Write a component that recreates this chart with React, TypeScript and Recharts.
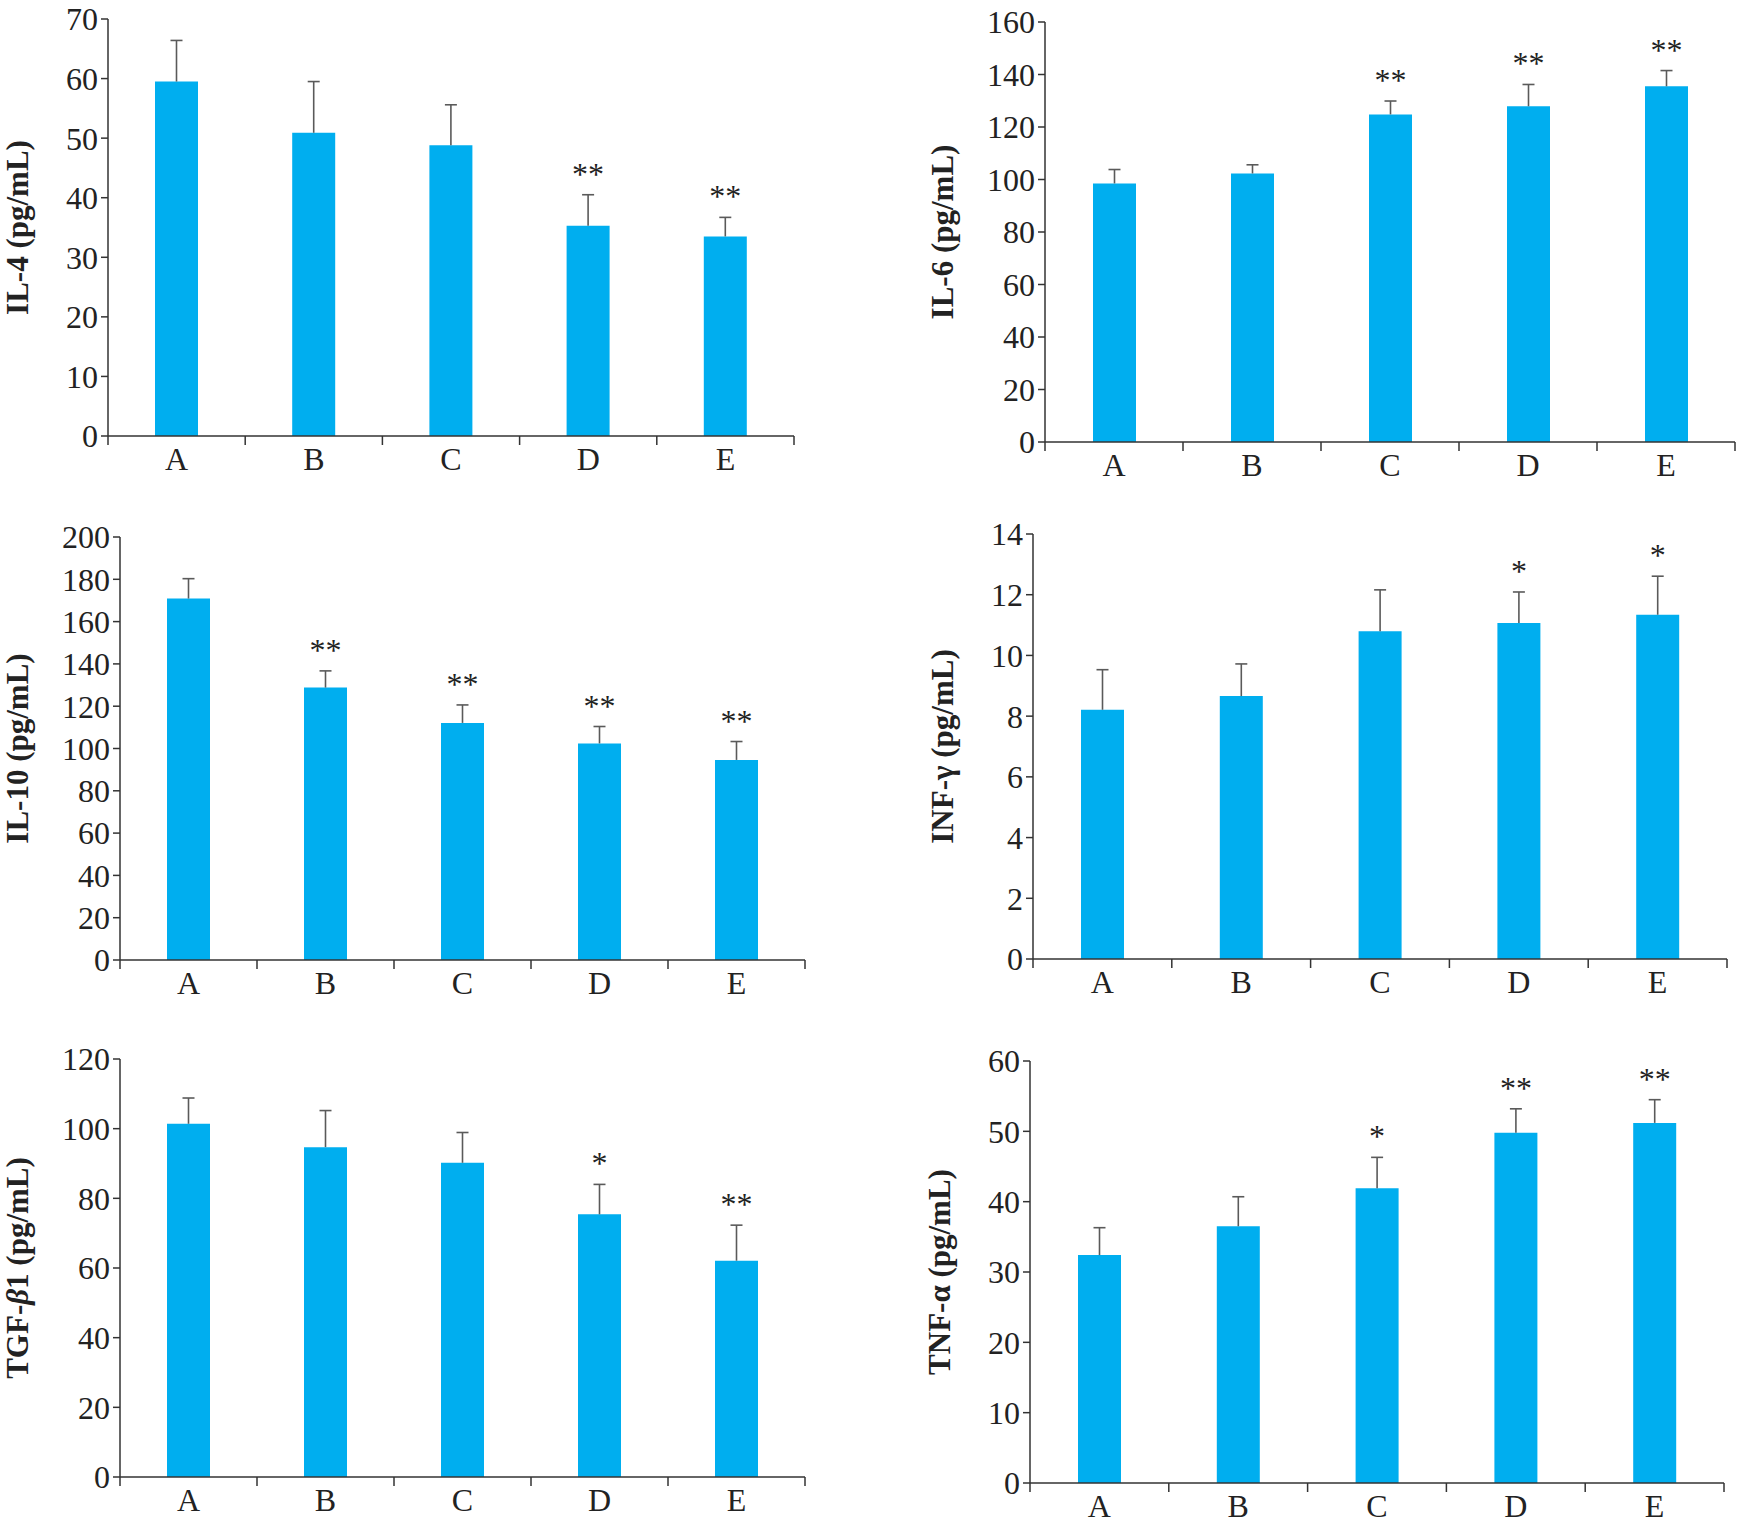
import React from "react";
import { BarChart, Bar, XAxis, YAxis, LabelList } from "recharts";

// groups on the x axis
const GROUPS = ["A", "B", "C", "D", "E"];

// IL-4
const IL4_MEAN = [59.5, 50.9, 48.8, 35.3, 33.5];
const IL4_UPPER = [66.4, 59.5, 55.6, 40.5, 36.7];
const IL4_SIG = ["", "", "", "**", "**"];
const IL4_TICKS = [0, 10, 20, 30, 40, 50, 60, 70];

// IL-6
const IL6_MEAN = [98.5, 102.3, 124.8, 127.9, 135.5];
const IL6_UPPER = [103.8, 105.6, 129.9, 136.2, 141.5];
const IL6_SIG = ["", "", "**", "**", "**"];
const IL6_TICKS = [0, 20, 40, 60, 80, 100, 120, 140, 160];

// IL-10
const IL10_MEAN = [170.9, 128.8, 112.1, 102.4, 94.6];
const IL10_UPPER = [180.3, 136.7, 120.6, 110.4, 103.3];
const IL10_SIG = ["", "**", "**", "**", "**"];
const IL10_TICKS = [0, 20, 40, 60, 80, 100, 120, 140, 160, 180, 200];

// INF-γ
const INF_MEAN = [8.21, 8.66, 10.8, 11.07, 11.34];
const INF_UPPER = [9.53, 9.72, 12.16, 12.09, 12.61];
const INF_SIG = ["", "", "", "*", "*"];
const INF_TICKS = [0, 2, 4, 6, 8, 10, 12, 14];

// TGF-β1
const TGF_MEAN = [101.4, 94.7, 90.2, 75.4, 62.1];
const TGF_UPPER = [108.8, 105.2, 98.9, 84.0, 72.3];
const TGF_SIG = ["", "", "", "*", "**"];
const TGF_TICKS = [0, 20, 40, 60, 80, 100, 120];

// TNF-α
const TNF_MEAN = [32.4, 36.5, 41.9, 49.8, 51.2];
const TNF_UPPER = [36.3, 40.7, 46.3, 53.2, 54.5];
const TNF_SIG = ["", "", "*", "**", "**"];
const TNF_TICKS = [0, 10, 20, 30, 40, 50, 60];

const FONT = "'Liberation Serif', 'Times New Roman', serif";
const BAR_COLOR = "#00AEEF";
const AXIS_COLOR = "#333333";
const WHISKER_COLOR = "#5a5a5a";
const TICK_FS = 32;

const M_TOP = 40;
const M_RIGHT = 5;
const X_H = 60;
const Y_W = 130;

const buildRows = (mean: number[], upper: number[], sig: string[]) =>
  GROUPS.map((g, i) => ({
    group: g,
    mean: mean[i],
    err: +(upper[i] - mean[i]).toFixed(3),
    sig: sig[i],
  }));

const ErrorWhisker = (props: any) => {
  const { x, y, width, height } = props;
  if (x == null || y == null || !width) return null;
  const cx = x + width / 2;
  return (
    <g>
      <line x1={cx} x2={cx} y1={y + height} y2={y} stroke={WHISKER_COLOR} strokeWidth={1.6} />
      <line x1={cx - 6} x2={cx + 6} y1={y} y2={y} stroke={WHISKER_COLOR} strokeWidth={1.6} />
    </g>
  );
};

// category label plus tick marks on the band edges
const GroupTick = (props: any) => {
  const { x, y, payload, index, half, last } = props;
  const h = payload && payload.offset ? payload.offset : half;
  return (
    <g>
      <line x1={x - h} x2={x - h} y1={y} y2={y + 9} stroke={AXIS_COLOR} strokeWidth={1.5} />
      {index === last && <line x1={x + h} x2={x + h} y1={y} y2={y + 9} stroke={AXIS_COLOR} strokeWidth={1.5} />}
      <text x={x} y={y + 11} dy="0.72em" textAnchor="middle" fill="#222" fontSize={TICK_FS} fontFamily={FONT}>
        {payload.value}
      </text>
    </g>
  );
};

type Panel = {
  title: React.ReactNode;
  mean: number[];
  upper: number[];
  sig: string[];
  ticks: number[];
  // plot rectangle on the page
  L: number;
  T: number;
  R: number;
  B: number;
  labelX: number;
};

const panels: Panel[] = [
  { title: "IL-4 (pg/mL)", mean: IL4_MEAN, upper: IL4_UPPER, sig: IL4_SIG, ticks: IL4_TICKS, L: 108, T: 19, R: 794, B: 436, labelX: 28 },
  { title: "IL-6 (pg/mL)", mean: IL6_MEAN, upper: IL6_UPPER, sig: IL6_SIG, ticks: IL6_TICKS, L: 1045, T: 22, R: 1735, B: 442, labelX: 953 },
  { title: "IL-10 (pg/mL)", mean: IL10_MEAN, upper: IL10_UPPER, sig: IL10_SIG, ticks: IL10_TICKS, L: 120, T: 537, R: 805, B: 960, labelX: 28 },
  { title: "INF-γ (pg/mL)", mean: INF_MEAN, upper: INF_UPPER, sig: INF_SIG, ticks: INF_TICKS, L: 1033, T: 534, R: 1727, B: 959, labelX: 953 },
  {
    title: (
      <>
        <tspan>TGF-</tspan>
        <tspan fontStyle="italic">β</tspan>
        <tspan>1 (pg/mL)</tspan>
      </>
    ),
    mean: TGF_MEAN, upper: TGF_UPPER, sig: TGF_SIG, ticks: TGF_TICKS, L: 120, T: 1059, R: 805, B: 1477, labelX: 28,
  },
  { title: "TNF-α (pg/mL)", mean: TNF_MEAN, upper: TNF_UPPER, sig: TNF_SIG, ticks: TNF_TICKS, L: 1030, T: 1061, R: 1724, B: 1483, labelX: 950 },
];

function CytokinePanel({ p }: { p: Panel }) {
  const data = buildRows(p.mean, p.upper, p.sig);
  const left = p.L - Y_W;
  const top = p.T - M_TOP;
  const w = p.R - p.L + Y_W + M_RIGHT;
  const h = p.B - p.T + M_TOP + X_H;
  const max = p.ticks[p.ticks.length - 1];
  const bx = p.labelX - left;
  const by = M_TOP + (p.B - p.T) / 2;
  const half = (p.R - p.L) / GROUPS.length / 2;

  return (
    <div style={{ position: "absolute", left, top }}>
      <BarChart width={w} height={h} data={data} margin={{ top: M_TOP, right: M_RIGHT, bottom: 0, left: 0 }}>
        <XAxis
          dataKey="group"
          height={X_H}
          interval={0}
          axisLine={{ stroke: AXIS_COLOR, strokeWidth: 1.5 }}
          tickLine={false}
          tickSize={0}
          tickMargin={0}
          tick={<GroupTick half={half} last={GROUPS.length - 1} />}
        />
        <YAxis
          domain={[0, max]}
          ticks={p.ticks}
          interval={0}
          allowDataOverflow
          width={Y_W}
          tickSize={7}
          tickMargin={3}
          axisLine={{ stroke: AXIS_COLOR, strokeWidth: 1.5 }}
          tickLine={{ stroke: AXIS_COLOR, strokeWidth: 1.5 }}
          tick={{ fill: "#222", fontSize: TICK_FS, fontFamily: FONT }}
          label={() => (
            <text
              x={bx}
              y={by}
              transform={`rotate(-90 ${bx} ${by})`}
              textAnchor="middle"
              fontFamily={FONT}
              fontWeight="bold"
              fontSize={31}
              fill="#222"
            >
              {p.title}
            </text>
          )}
        />
        <Bar dataKey="mean" stackId="s" fill={BAR_COLOR} barSize={43} isAnimationActive={false} />
        <Bar dataKey="err" stackId="s" barSize={43} shape={<ErrorWhisker />} isAnimationActive={false}>
          <LabelList dataKey="sig" position="top" offset={10} fill="#222" fontSize={32} fontFamily={FONT} />
        </Bar>
      </BarChart>
    </div>
  );
}

export default function App() {
  return (
    <div style={{ position: "absolute", left: 0, top: 0, width: 1740, height: 1525, background: "#fff", overflow: "hidden" }}>
      {panels.map((p, i) => (
        <CytokinePanel key={i} p={p} />
      ))}
    </div>
  );
}
